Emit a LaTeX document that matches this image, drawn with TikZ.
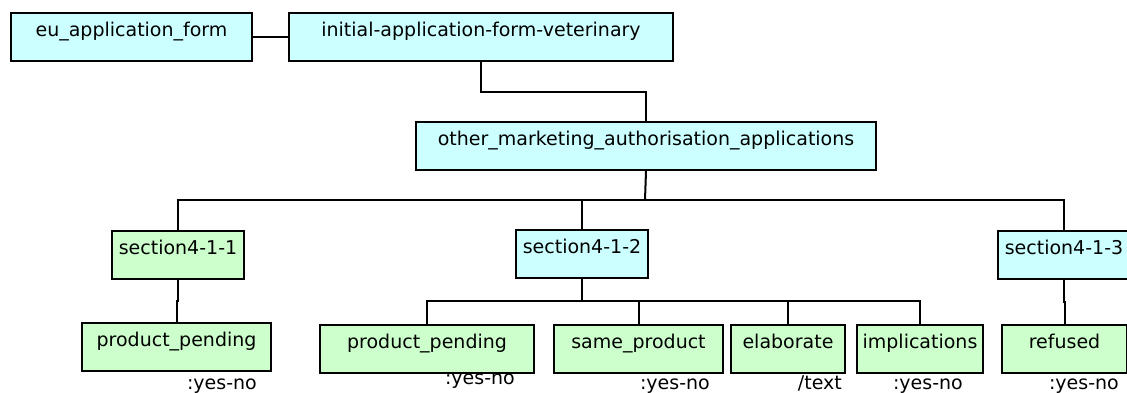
\documentclass[tikz,border=0pt]{standalone}
\usepackage{fontspec}
\setmainfont{DejaVu Sans}
\definecolor{cyanbox}{HTML}{CCFFFF}
\definecolor{greenbox}{HTML}{CCFFCC}
\begin{document}
\begin{tikzpicture}[x=1pt,y=-1pt,
  box/.style={draw, line width=2pt, inner xsep=0pt, inner ysep=0pt,
    text height=23pt, text depth=25pt, anchor=north west,
    font=\fontsize{19}{21}\selectfont},
  cbox/.style={box, fill=cyanbox},
  gbox/.style={box, fill=greenbox},
  conn/.style={line width=2pt},
  lbl/.style={anchor=base east, inner sep=0pt, font=\fontsize{19}{21}\selectfont}]
\useasboundingbox (0,0) rectangle (1127,392);
% top row
\node[cbox, minimum width=241pt] (eu) at (10,12) {eu\_application\_form};
\node[cbox, minimum width=384pt] (init) at (288,12) {initial-application-form-veterinary};
\node[cbox, minimum width=460pt] (other) at (415,121) {other\_marketing\_authorisation\_applications};
% sections
\node[gbox, minimum width=132pt] (s1) at (111,230) {section4-1-1};
\node[cbox, minimum width=132pt] (s2) at (515,229) {section4-1-2};
\node[cbox, minimum width=132pt] (s3) at (997,230) {section4-1-3};
% leaves
\node[gbox, minimum width=189pt] (pp1) at (81,322) {product\_pending};
\node[gbox, minimum width=214pt] (pp2) at (319,324) {product\_pending};
\node[gbox, minimum width=169pt] (same) at (553,324) {same\_product};
\node[gbox, minimum width=114pt] (elab) at (730,324) {elaborate};
\node[gbox, minimum width=126pt] (impl) at (856,324) {implications};
\node[gbox, minimum width=125pt] (ref) at (1001,324) {refused};
% labels
\node[lbl] (l1) at (257,389) {:yes-no};
\node[lbl] (l2) at (515,384) {:yes-no};
\node[lbl] (l3) at (710,389) {:yes-no};
\node[lbl] (l4) at (842,389) {/text};
\node[lbl] (l5) at (963,389) {:yes-no};
\node[lbl] (l6) at (1119,389) {:yes-no};
% connectors
\coordinate (bus) at (645,200);
\coordinate (sbus) at (582,301);
\draw[conn] (eu.east) -- (init.west);
\draw[conn] (init.south) -- ++(0,30) -| (other.north);
\draw[conn] (other.south) -- (bus);
\draw[conn] (s1.north) |- (bus) -| (s3.north);
\draw[conn] (s2.north) -- (s2.north |- bus);
\draw[conn] (s2.south) -- (sbus);
\draw[conn] (pp2.north) |- (sbus) -| (impl.north);
\draw[conn] (same.north) -- (same.north |- sbus);
\draw[conn] (elab.north) -- (elab.north |- sbus);
\draw[conn] (s1.south) -- ++(0,21) -| (pp1.north);
\draw[conn] (s3.south) -- ++(0,22) -| (ref.north);
\end{tikzpicture}
\end{document}
